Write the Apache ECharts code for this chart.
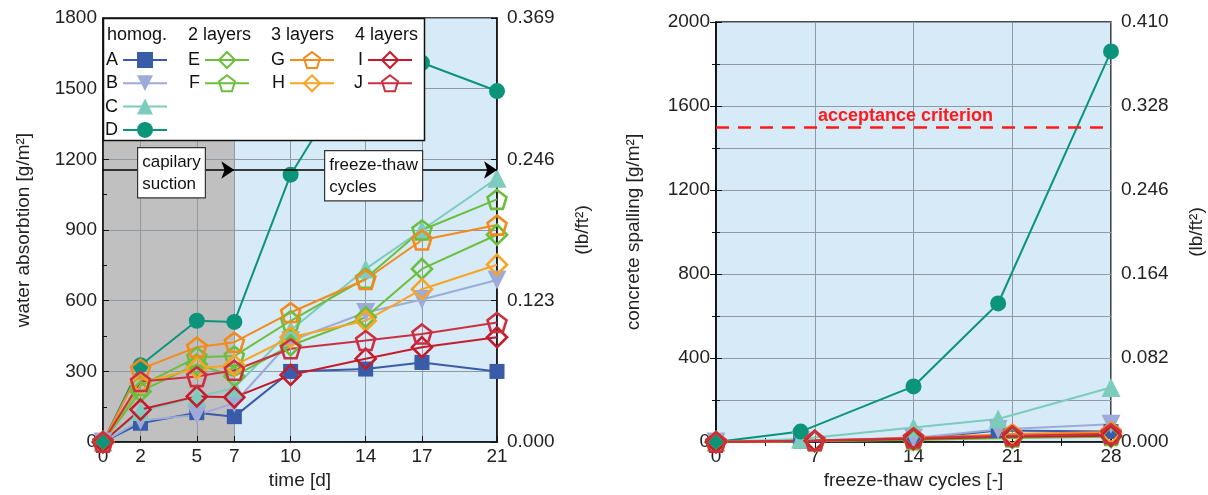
<!DOCTYPE html>
<html><head><meta charset="utf-8">
<script src="https://cdn.jsdelivr.net/npm/echarts@6/dist/echarts.min.js"></script>
<style>html,body{margin:0;padding:0;background:#fff}#c{width:1208px;height:495px}</style>
</head><body><div id="c"></div>
<script>
// ---------- data ----------
const days = [0, 2, 5, 7, 10, 14, 17, 21];
const dayTicks = [0, 2, 5, 7, 10, 14, 17, 21];
const absA = [0, 80, 125, 108, 300, 310, 338, 300];
const absB = [0, 92, 115, 165, 430, 550, 605, 688];
const absC = [0, 130, 192, 230, 475, 735, 900, 1120];
const absD = [0, 326, 515, 510, 1135, 1650, 1610, 1490];
const absE = [0, 215, 330, 280, 410, 530, 735, 880];
const absF = [0, 240, 360, 365, 515, 695, 900, 1030];
const absG = [0, 310, 403, 424, 550, 690, 858, 921];
const absH = [0, 251, 313, 326, 445, 515, 649, 753];
const absI = [0, 138, 194, 190, 285, 354, 403, 445];
const absJ = [0, 257, 278, 305, 396, 431, 459, 508];

const cyclesHomog = [0, 6, 14, 20, 28];
const cyclesLayer = [0, 7, 14, 21, 28];
const spA = [0, 5, 15, 55, 50];
const spB = [0, 8, 20, 60, 85];
const spC = [0, 15, 70, 110, 260];
const spD = [0, 50, 265, 660, 1860];
const spE = [0, 5, 10, 20, 25];
const spF = [0, 5, 12, 25, 32];
const spG = [0, 8, 20, 38, 48];
const spH = [0, 6, 18, 32, 42];
const spI = [0, 6, 15, 26, 30];
const spJ = [0, 8, 20, 30, 40];

const acceptance = 1500;
const phaseBounds = [0, 7, 21];
const arrowLevel = 1155;
const gm2ToLbft2 = 0.000205;

// ---------- styles ----------
const FONT = 'Liberation Sans, Arial, sans-serif';
const pent = 'path://M0,-1 L0.951,-0.309 L0.588,0.809 L-0.588,0.809 L-0.951,-0.309 Z';
const S = {
  A: {c: '#3a5ba8', sym: 'rect', size: 15, hollow: false},
  B: {c: '#9eabd8', sym: 'triangle', size: 19, hollow: false, rot: 180},
  C: {c: '#7ccbbd', sym: 'triangle', size: 19, hollow: false},
  D: {c: '#0b9479', sym: 'circle', size: 16, hollow: false},
  E: {c: '#6cbf3c', sym: 'diamond', size: 20, hollow: true},
  F: {c: '#6cbf3c', sym: pent, size: 19, hollow: true},
  G: {c: '#f28a1c', sym: pent, size: 19, hollow: true},
  H: {c: '#f8a424', sym: 'diamond', size: 20, hollow: true},
  I: {c: '#c41c2c', sym: 'diamond', size: 20, hollow: true},
  J: {c: '#cc3040', sym: pent, size: 19, hollow: true}
};
function mk(name, data, xi, yi) {
  const s = S[name];
  return {
    name: name, type: 'line', xAxisIndex: xi, yAxisIndex: yi, data: data,
    symbol: s.sym, symbolSize: s.size, symbolRotate: s.rot || 0,
    lineStyle: {color: s.c, width: 2},
    itemStyle: s.hollow ? {color: 'rgba(255,255,255,0)', borderColor: s.c, borderWidth: 2.6}
                        : {color: s.c, borderColor: s.c, borderWidth: 0},
    emphasis: {disabled: true}, z: 2
  };
}
function pairs(xs, ys) { return xs.map((x, i) => [x, ys[i]]); }

const absData = {A: absA, B: absB, C: absC, D: absD, E: absE, F: absF, G: absG, H: absH, I: absI, J: absJ};
const spData = {A: spA, B: spB, C: spC, D: spD, E: spE, F: spF, G: spG, H: spH, I: spI, J: spJ};
const homog = ['A', 'B', 'C', 'D'];

const series = [];
series.push({
  name: 'bg', type: 'line', xAxisIndex: 0, yAxisIndex: 0, data: [], z: -1, silent: true,
  markArea: {silent: true, z: -1, data: [
    [{xAxis: phaseBounds[0], itemStyle: {color: '#c0c0c0'}}, {xAxis: phaseBounds[1]}],
    [{xAxis: phaseBounds[1], itemStyle: {color: '#d6eaf8'}}, {xAxis: phaseBounds[2]}]
  ]}
});
series.push({
  name: 'arrows', type: 'line', xAxisIndex: 0, yAxisIndex: 0, data: [], silent: true, z: 3,
  markLine: {silent: true, symbol: ['none', 'arrow'], symbolSize: 13, label: {show: false},
    lineStyle: {color: '#000', width: 1.5, type: 'solid'}, emphasis: {disabled: true},
    data: [
      [{coord: [phaseBounds[0], arrowLevel]}, {coord: [phaseBounds[1], arrowLevel]}],
      [{coord: [phaseBounds[1], arrowLevel]}, {coord: [phaseBounds[2], arrowLevel]}]
    ]}
});
Object.keys(absData).forEach(n => series.push(mk(n, pairs(days, absData[n]), 0, 0)));
Object.keys(spData).forEach(n => series.push(mk(n, pairs(homog.includes(n) ? cyclesHomog : cyclesLayer, spData[n]), 1, 2)));
series.push({
  name: 'acc', type: 'line', xAxisIndex: 1, yAxisIndex: 2, data: [], silent: true, z: 3,
  markLine: {silent: true, symbol: ['none', 'none'], emphasis: {disabled: true},
    lineStyle: {color: '#ff1a1a', width: 2.5, type: [13, 9]},
    label: {show: true, position: 'middle', formatter: 'acceptance criterion', color: '#ff1a1a',
      fontWeight: 'bold', fontSize: 18, fontFamily: FONT, distance: 2, offset: [-8, 0]},
    data: [{yAxis: acceptance}]}
});

const plain = v => String(v);
const axLabel = {color: '#222', fontSize: 19, fontFamily: FONT};
const nameStyle = {color: '#222', fontSize: 19, fontFamily: FONT};
const gridLine = {show: true, lineStyle: {color: '#8f9aa3', width: 1}};

function legendCol(left, names) {
  return {
    left: left, top: 51, orient: 'vertical', align: 'right', padding: 0,
    itemWidth: 44, itemHeight: 20, itemGap: 5.3, selectedMode: false, z: 6,
    textStyle: {fontSize: 18, fontFamily: FONT, color: '#111', width: 14, lineHeight: 17},
    data: names
  };
}

const option = {
  animation: false,
  backgroundColor: '#fff',
  grid: [
    {left: 103, right: 711, top: 18, bottom: 47, show: true, borderColor: '#111', borderWidth: 1.5, backgroundColor: 'transparent', z: 0},
    {left: 716, right: 97, top: 22, bottom: 47, show: true, borderColor: '#111', borderWidth: 1.5, backgroundColor: '#d6eaf8'}
  ],
  xAxis: [
    {gridIndex: 0, type: 'value', min: 0, max: 21,
      name: 'time [d]', nameLocation: 'middle', nameGap: 17, nameTextStyle: nameStyle,
      axisLine: {show: true, lineStyle: {color: '#111', width: 1.5}},
      axisTick: {show: true, inside: true, length: 6, customValues: dayTicks, lineStyle: {color: '#111'}},
      axisLabel: Object.assign({customValues: dayTicks, margin: 5, formatter: plain}, axLabel),
      splitLine: gridLine},
    {gridIndex: 1, type: 'value', min: 0, max: 28, interval: 7,
      name: 'freeze-thaw cycles [-]', nameLocation: 'middle', nameGap: 19, nameTextStyle: nameStyle,
      axisLine: {show: true, lineStyle: {color: '#111', width: 1.5}},
      axisTick: {show: true, inside: true, length: 6, lineStyle: {color: '#111'}},
      minorTick: {show: true, splitNumber: 2, length: 4, lineStyle: {color: '#111'}},
      axisLabel: Object.assign({margin: 5, formatter: plain}, axLabel),
      splitLine: gridLine},
    {gridIndex: 1, type: 'value', min: 0, max: 28, interval: 7, position: 'top',
      axisLine: {show: false}, axisLabel: {show: false}, splitLine: {show: false},
      axisTick: {show: true, inside: true, length: 6, lineStyle: {color: '#111'}},
      minorTick: {show: true, splitNumber: 2, length: 4, lineStyle: {color: '#111'}}}
  ],
  yAxis: [
    {gridIndex: 0, type: 'value', min: 0, max: 1800, interval: 300,
      name: 'water absorbtion [g/m²]', nameLocation: 'middle', nameGap: 70, nameRotate: 90, nameTextStyle: nameStyle,
      axisLine: {show: true, lineStyle: {color: '#111', width: 1.5}},
      axisTick: {show: true, inside: true, length: 6, lineStyle: {color: '#111'}},
      minorTick: {show: true, splitNumber: 2, length: 4, lineStyle: {color: '#111'}},
      axisLabel: Object.assign({margin: 6, formatter: plain}, axLabel),
      splitLine: gridLine},
    {gridIndex: 0, type: 'value', min: 0, max: 1800, interval: 600, position: 'right',
      name: '(lb/ft²)', nameLocation: 'middle', nameGap: 76, nameRotate: 90, nameTextStyle: nameStyle,
      axisLine: {show: true, lineStyle: {color: '#111', width: 1.5}},
      axisTick: {show: true, inside: true, length: 6, lineStyle: {color: '#111'}},
      axisLabel: Object.assign({margin: 10, formatter: v => (v * gm2ToLbft2).toFixed(3)}, axLabel),
      splitLine: {show: false}},
    {gridIndex: 1, type: 'value', min: 0, max: 2000, interval: 400,
      name: 'concrete spalling [g/m²]', nameLocation: 'middle', nameGap: 73, nameRotate: 90, nameTextStyle: nameStyle,
      axisLine: {show: true, lineStyle: {color: '#111', width: 1.5}},
      axisTick: {show: true, inside: true, length: 6, lineStyle: {color: '#111'}},
      minorTick: {show: true, splitNumber: 2, length: 4, lineStyle: {color: '#111'}},
      minorSplitLine: {show: true, lineStyle: {color: '#8f9aa3', width: 1}},
      axisLabel: Object.assign({margin: 6, formatter: plain}, axLabel),
      splitLine: gridLine},
    {gridIndex: 1, type: 'value', min: 0, max: 2000, interval: 400, position: 'right',
      name: '(lb/ft²)', nameLocation: 'middle', nameGap: 76, nameRotate: 90, nameTextStyle: nameStyle,
      axisLine: {show: true, lineStyle: {color: '#111', width: 1.5}},
      axisTick: {show: true, inside: true, length: 6, lineStyle: {color: '#111'}},
      minorTick: {show: true, splitNumber: 2, length: 4, lineStyle: {color: '#111'}},
      axisLabel: Object.assign({margin: 10, formatter: v => (v * gm2ToLbft2).toFixed(3)}, axLabel),
      splitLine: {show: false}}
  ],
  legend: [
    legendCol(104, ['A', 'B', 'C', 'D']),
    legendCol(186, ['E', 'F']),
    legendCol(271, ['G', 'H']),
    legendCol(349, ['I', 'J'])
  ],
  graphic: [
    {type: 'rect', z: 5, shape: {x: 103.5, y: 18.5, width: 321, height: 122},
      style: {fill: '#fff', stroke: '#111', lineWidth: 1.5}},
    {type: 'text', z: 7, left: 107, top: 26, style: {text: 'homog.', font: '18px ' + FONT, fill: '#111'}},
    {type: 'text', z: 7, left: 188, top: 26, style: {text: '2 layers', font: '18px ' + FONT, fill: '#111'}},
    {type: 'text', z: 7, left: 271, top: 26, style: {text: '3 layers', font: '18px ' + FONT, fill: '#111'}},
    {type: 'text', z: 7, left: 355, top: 26, style: {text: '4 layers', font: '18px ' + FONT, fill: '#111'}},
    {type: 'text', z: 7, left: 137, top: 147, style: {text: 'capilary\nsuction', font: '17px ' + FONT, fill: '#111',
      lineHeight: 22, backgroundColor: '#fff', borderColor: '#333', borderWidth: 1.2, padding: [3, 4, 2, 4]}},
    {type: 'text', z: 7, left: 324, top: 150, style: {text: 'freeze-thaw\ncycles', font: '17px ' + FONT, fill: '#111',
      lineHeight: 22, backgroundColor: '#fff', borderColor: '#333', borderWidth: 1.2, padding: [3, 4, 2, 4]}}
  ],
  series: series
};
const chart = echarts.init(document.getElementById('c'), null, {renderer: 'canvas'});
chart.setOption(option);
</script>
</body></html>
